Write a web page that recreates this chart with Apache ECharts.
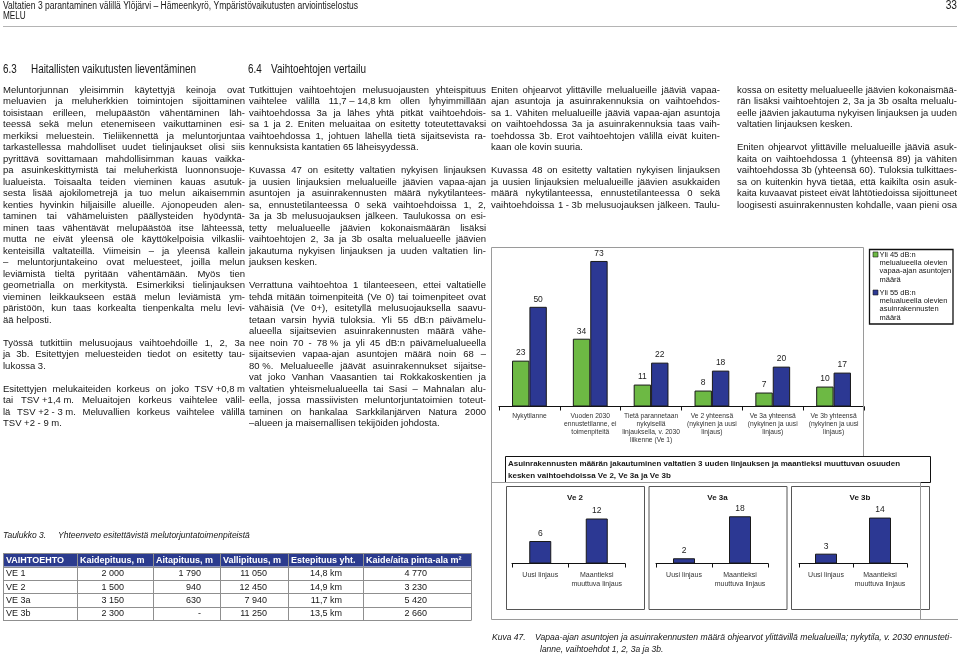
<!DOCTYPE html>
<html><head><meta charset="utf-8">
<script src="https://cdn.jsdelivr.net/npm/echarts@6/dist/echarts.min.js"></script>
<style>html,body{margin:0;padding:0;background:#fff}#c{width:960px;height:657px}</style>
</head><body><div id="c"></div>
<script>
// ---------------- DATA ----------------
const mainCategories = [
  'Nykytilanne',
  'Vuoden 2030\nennustetilanne, ei\ntoimenpiteitä',
  'Tietä parannetaan\nnykyisellä\nlinjauksella, v. 2030\nliikenne (Ve 1)',
  'Ve 2 yhteensä\n(nykyinen ja uusi\nlinjaus)',
  'Ve 3a yhteensä\n(nykyinen ja uusi\nlinjaus)',
  'Ve 3b yhteensä\n(nykyinen ja uusi\nlinjaus)'
];
const seriesNames = [
  'Yli 45 dB:n\nmelualueella olevien\nvapaa-ajan asuntojen\nmäärä',
  'Yli 55 dB:n\nmelualueella olevien\nasuinrakennusten\nmäärä'
];
const leisureHomes = [23, 34, 11, 8, 7, 10];
const residentialBuildings = [50, 73, 22, 18, 20, 17];

const splitTitleLines = [
  'Asuinrakennusten määrän jakautuminen valtatien 3 uuden linjauksen ja maantieksi muuttuvan osuuden',
  'kesken vaihtoehdoissa Ve 2, Ve 3a ja Ve 3b'
];
const splitPanelTitles = ['Ve 2', 'Ve 3a', 'Ve 3b'];
const splitCategories = ['Uusi linjaus', 'Maantieksi\nmuuttuva linjaus'];
const ve2Split = [6, 12];
const ve3aSplit = [2, 18];
const ve3bSplit = [3, 14];
const splitMax = [14, 20, 16];

const tableCaption = ['Taulukko 3.', 'Yhteenveto esitettävistä melutorjuntatoimenpiteistä'];
const tableHeader = ['VAIHTOEHTO', 'Kaidepituus, m', 'Aitapituus, m', 'Vallipituus, m', 'Estepituus yht.', 'Kaide/aita pinta-ala m²'];
const tableRowLabels = ['VE 1', 'VE 2', 'VE 3a', 'VE 3b'];
const kaidepituus = ['2 000', '1 500', '3 150', '2 300'];
const aitapituus = ['1 790', '940', '630', '-'];
const vallipituus = ['11 050', '12 450', '7 940', '11 250'];
const estepituus = ['14,8 km', '14,9 km', '11,7 km', '13,5 km'];
const pintaAla = ['4 770', '3 230', '5 420', '2 660'];

const headerTitle = 'Valtatien 3 parantaminen välillä Ylöjärvi – Hämeenkyrö, Ympäristövaikutusten arviointiselostus';
const headerSub = 'MELU';
const pageNumber = '33';
const heading63 = ['6.3', 'Haitallisten vaikutusten lieventäminen'];
const heading64 = ['6.4', 'Vaihtoehtojen vertailu'];
const figureCaption = ['Kuva 47.', 'Vapaa-ajan asuntojen ja asuinrakennusten määrä ohjearvot ylittävillä melualueilla; nykytila, v. 2030 ennusteti-', 'lanne, vaihtoehdot 1, 2, 3a ja 3b.'];

const colA = [
 ['Meluntorjunnan yleisimmin käytettyjä keinoja ovat',
  'meluavien ja meluherkkien toimintojen sijoittaminen',
  'toisistaan erilleen, melupäästön vähentäminen läh-',
  'teessä sekä melun etenemiseen vaikuttaminen esi-',
  'merkiksi meluestein. Tieliikennettä ja meluntorjuntaa',
  'tarkastellessa mahdolliset uudet tielinjaukset olisi siis',
  'pyrittävä sovittamaan mahdollisimman kauas vaikka-',
  'pa asuinkeskittymistä tai meluherkistä luonnonsuoje-',
  'lualueista. Toisaalta teiden vieminen kauas asutuk-',
  'sesta lisää ajokilometrejä ja tuo melun aikaisemmin',
  'kenties hyvinkin hiljaisille alueille. Ajonopeuden alen-',
  'taminen tai vähämeluisten päällysteiden hyödyntä-',
  'minen taas vähentävät melupäästöä itse lähteessä,',
  'mutta ne eivät yleensä ole käyttökelpoisia vilkaslii-',
  'kenteisillä valtateillä. Viimeisin – ja yleensä kallein',
  '– meluntorjuntakeino ovat meluesteet, joilla melun',
  'leviämistä tieltä pyritään vähentämään. Myös tien',
  'geometrialla on merkitystä. Esimerkiksi tielinjauksen',
  'vieminen leikkaukseen estää melun leviämistä ym-',
  'päristöön, kun taas korkealta tienpenkalta melu levi-',
  'ää helposti.'],
 ['Työssä tutkittiin melusuojaus vaihtoehdoille 1, 2, 3a',
  'ja 3b. Esitettyjen meluesteiden tiedot on esitetty tau-',
  'lukossa 3.'],
 ['Esitettyjen melukaiteiden korkeus on joko TSV\u00a0+0,8\u00a0m',
  'tai TSV\u00a0+1,4\u00a0m. Meluaitojen korkeus vaihtelee välil-',
  'lä TSV\u00a0+2\u00a0-\u00a03\u00a0m. Meluvallien korkeus vaihtelee välillä',
  'TSV\u00a0+2\u00a0-\u00a09\u00a0m.']
];
const colB = [
 ['Tutkittujen vaihtoehtojen melusuojausten yhteispituus',
  'vaihtelee välillä 11,7\u00a0–\u00a014,8\u00a0km ollen lyhyimmillään',
  'vaihtoehdossa 3a ja lähes yhtä pitkät vaihtoehdois-',
  'sa 1 ja 2. Eniten meluaitaa on esitetty toteutettavaksi',
  'vaihtoehdossa 1, johtuen lähellä tietä sijaitsevista ra-',
  'kennuksista kantatien 65 läheisyydessä.'],
 ['Kuvassa 47 on esitetty valtatien nykyisen linjauksen',
  'ja uusien linjauksien melualueille jäävien vapaa-ajan',
  'asuntojen ja asuinrakennusten määrä nykytilantees-',
  'sa, ennustetilanteessa 0 sekä vaihtoehdoissa 1, 2,',
  '3a ja 3b melusuojauksen jälkeen. Taulukossa on esi-',
  'tetty melualueelle jäävien kokonaismäärän lisäksi',
  'vaihtoehtojen 2, 3a ja 3b osalta melualueelle jäävien',
  'jakautuma nykyisen linjauksen ja uuden valtatien lin-',
  'jauksen kesken.'],
 ['Verrattuna vaihtoehtoa 1 tilanteeseen, ettei valtatielle',
  'tehdä mitään toimenpiteitä (Ve 0) tai toimenpiteet ovat',
  'vähäisiä (Ve 0+), esitetyllä melusuojauksella saavu-',
  'tetaan varsin hyviä tuloksia. Yli 55 dB:n päivämelu-',
  'alueella sijaitsevien asuinrakennusten määrä vähe-',
  'nee noin 70 - 78\u00a0% ja yli 45 dB:n päivämelualueella',
  'sijaitsevien vapaa-ajan asuntojen määrä noin 68 –',
  '80\u00a0%. Melualueelle jäävät asuinrakennukset sijaitse-',
  'vat joko Vanhan Vaasantien tai Rokkakoskentien ja',
  'valtatien yhteismelualueella tai Sasi – Mahnalan alu-',
  'eella, jossa massiivisten meluntorjuntatoimien toteut-',
  'taminen on hankalaa Sarkkilanjärven Natura 2000',
  '–alueen ja maisemallisen tekijöiden johdosta.']
];
const colC = [
 ['Eniten ohjearvot ylittäville melualueille jääviä vapaa-',
  'ajan asuntoja ja asuinrakennuksia on vaihtoehdos-',
  'sa 1. Vähiten melualueille jääviä vapaa-ajan asuntoja',
  'on vaihtoehdossa 3a ja asuinrakennuksia taas vaih-',
  'toehdossa 3b. Erot vaihtoehtojen välillä eivät kuiten-',
  'kaan ole kovin suuria.'],
 ['Kuvassa 48 on esitetty valtatien nykyisen linjauksen',
  'ja uusien linjauksien melualueille jäävien asukkaiden',
  'määrä nykytilanteessa, ennustetilanteessa 0 sekä',
  'vaihtoehdoissa 1\u00a0-\u00a03b melusuojauksen jälkeen. Taulu-']
];
const colD = [
 ['kossa on esitetty melualueelle jäävien kokonaismää-',
  'rän lisäksi vaihtoehtojen 2, 3a ja 3b osalta melualu-',
  'eelle jäävien jakautuma nykyisen linjauksen ja uuden',
  'valtatien linjauksen kesken.'],
 ['Eniten ohjearvot ylittäville melualueille jääviä asuk-',
  'kaita on vaihtoehdossa 1 (yhteensä 89) ja vähiten',
  'vaihtoehdossa 3b (yhteensä 60). Tuloksia tulkittaes-',
  'sa on kuitenkin hyvä tietää, että kaikilta osin asuk-',
  'kaita kuvaavat pisteet eivät lähtötiedoissa sijoittuneet',
  'loogisesti asuinrakennusten kohdalle, vaan pieni osa']
];

// ---------------- HELPERS ----------------
const FF = 'Liberation Sans';
const GREEN = '#6DB944', NAVY = '#2C3893', EDGE = '#1a1a1a', TXT = '#161616';
const mctx = document.createElement('canvas').getContext('2d');
function measure(t, size, weight, style) {
  mctx.font = (style || 'normal') + ' ' + (weight || 'normal') + ' ' + size + 'px "' + FF + '"';
  return mctx.measureText(t).width;
}
const G = [];
function T(x, y, text, o) {
  o = o || {};
  const size = o.size || 9.5;
  const al = o.align || 'left';
  const el = {type: 'text', x: x, y: y, silent: true, z: 10,
    style: {text: text, fontSize: size, fontFamily: FF, fontWeight: o.weight || 'normal',
      fontStyle: o.style || 'normal', fill: o.fill || TXT,
      textAlign: al, align: al, textVerticalAlign: 'middle', verticalAlign: 'middle'}};
  let sx = o.scaleX;
  if (o.fit) sx = o.fit / measure(text, size, o.weight, o.style);
  if (sx) el.scaleX = sx;
  G.push(el);
}
function L(x1, y1, x2, y2, stroke, w) {
  G.push({type: 'line', silent: true, z: 5, shape: {x1: x1, y1: y1, x2: x2, y2: y2}, style: {stroke: stroke, lineWidth: w || 1}});
}
function R(x, y, w, h, fill, stroke, lw) {
  G.push({type: 'rect', silent: true, z: 4, shape: {x: x, y: y, width: w, height: h},
    style: {fill: fill || 'none', stroke: stroke || 'none', lineWidth: lw || 1}});
}
function jline(line, x, y, w, o, justify) {
  const size = o.size || 9.5;
  const nat = measure(line, size, o.weight, o.style);
  if (nat > w) { T(x, y, line, Object.assign({}, o, {scaleX: w / nat})); return; }
  if (!justify) { T(x, y, line, o); return; }
  const words = line.split(' ');
  if (words.length < 2) { T(x, y, line, o); return; }
  const ws = words.map(function (wd) { return measure(wd, size, o.weight, o.style); });
  const sum = ws.reduce(function (a, b) { return a + b; }, 0);
  const gap = (w - sum) / (words.length - 1);
  let cx = x;
  words.forEach(function (wd, i) { T(cx, y, wd, o); cx += ws[i] + gap; });
}
function block(paras, x, y0, w, lh, o, openEnd) {
  let y = y0;
  paras.forEach(function (p, pi) {
    p.forEach(function (line, li) {
      const last = li === p.length - 1;
      jline(line, x, y, w, o, !last || (openEnd && pi === paras.length - 1));
      y += lh;
    });
    y += lh;
  });
}

// ---------------- PAGE TEXT ----------------
T(3, 6, headerTitle, {size: 10, fit: 355});
T(3, 16.5, headerSub, {size: 10, scaleX: 0.82});
T(957, 6, pageNumber, {size: 12, align: 'right', scaleX: 0.85});
L(3, 26.5, 957, 26.5, '#b4b4b4', 1);

T(3, 70, heading63[0], {size: 12, scaleX: 0.82});
T(31, 70, heading63[1], {size: 12, fit: 165});
T(248, 70, heading64[0], {size: 12, scaleX: 0.82});
T(271, 70, heading64[1], {size: 12, fit: 95});

const BODY = {size: 9.5};
block(colA, 3, 90, 242, 11.5, BODY, false);
block(colB, 249, 90, 237, 11.5, BODY, false);
block(colC, 491, 90, 229, 11.5, BODY, true);
block(colD, 737, 90, 220, 11.5, BODY, true);

// ---------------- TABLE ----------------
T(3, 536, tableCaption[0], {size: 8.5, style: 'italic'});
T(58, 536, tableCaption[1], {size: 8.5, style: 'italic'});
const colEdges = [3, 77, 153, 220, 288, 363, 471];
const tTop = 553, hdrH = 13.5, rowH = 13.4;
R(colEdges[0], tTop, colEdges[6] - colEdges[0], hdrH, '#2B3B8E');
tableHeader.forEach(function (h, i) { T(colEdges[i] + 3, tTop + hdrH / 2 + 0.5, h, {size: 9, weight: 'bold', fill: '#ffffff'}); });
const tableCols = [kaidepituus, aitapituus, vallipituus, estepituus, pintaAla];
const rightAnchors = [124, 201, 267, 342, 427];
tableRowLabels.forEach(function (lab, r) {
  const yc = tTop + hdrH + r * rowH + rowH / 2 + 0.5;
  T(6, yc, lab, {size: 9});
  tableCols.forEach(function (col, c) { T(rightAnchors[c], yc, col[r], {size: 9, align: 'right'}); });
});
for (let r = 0; r <= 4; r++) {
  const yy = Math.round(tTop + hdrH + r * rowH) + 0.5;
  L(colEdges[0], yy, colEdges[6], yy, '#8f8f8f', 1);
}
L(colEdges[0], tTop + 0.5, colEdges[6], tTop + 0.5, '#8f8f8f', 1);
colEdges.forEach(function (xe) { L(xe + 0.5, tTop, xe + 0.5, tTop + hdrH + 4 * rowH + 0.5, '#8f8f8f', 1); });

// ---------------- FIGURE FRAMES ----------------
const FR = '#9a9a9a';
L(491.5, 247.5, 863.5, 247.5, FR, 1);
L(863.5, 247.5, 863.5, 456, FR, 1);
L(491.5, 247.5, 491.5, 619.5, FR, 1);
L(491.5, 619.5, 958, 619.5, FR, 1);
L(491.5, 482.5, 920.5, 482.5, FR, 1);
L(920.5, 482.5, 920.5, 619.5, FR, 1);
// legend box
R(869.5, 249.5, 83.5, 74.5, 'none', '#111', 1.3);
const legendColors = [GREEN, NAVY];
const legendTops = [254.5, 292.5];
seriesNames.forEach(function (nm, i) {
  R(873, legendTops[i] - 2.5, 5, 5, legendColors[i], EDGE, 0.6);
  nm.split('\n').forEach(function (ln, k) { T(879.5, legendTops[i] + k * 8.4, ln, {size: 7.5}); });
});
// title box of the split charts
R(505.5, 456.5, 425, 26, 'none', '#111', 1);
jline(splitTitleLines[0], 508, 464, 392, {size: 8, weight: 'bold'}, true);
T(508, 475.5, splitTitleLines[1], {size: 8, weight: 'bold'});
// small panels
const panelX = [506, 648.5, 791];
panelX.forEach(function (px, i) {
  R(px + 0.5, 486.5, 138, 123, 'none', '#555', 1);
  T(px + 69, 498, splitPanelTitles[i], {size: 8, weight: 'bold', align: 'center'});
});
// caption
T(492, 638, figureCaption[0], {size: 8.5, style: 'italic'});
T(535, 638, figureCaption[1], {size: 8.5, style: 'italic', fit: 417});
T(540, 650, figureCaption[2], {size: 8.5, style: 'italic'});

// ---------------- CHART ----------------
const chart = echarts.init(document.getElementById('c'), null, {renderer: 'canvas'});
const splitData = [ve2Split, ve3aSplit, ve3bSplit];
const splitGrids = [
  {left: 512, top: 511, width: 113, height: 52.5},
  {left: 656, top: 511, width: 112, height: 52.5},
  {left: 799, top: 511, width: 108, height: 52.5}
];
const axisCommon = {
  type: 'category',
  axisLine: {lineStyle: {color: '#111', width: 1}},
  axisTick: {show: true, length: 4, lineStyle: {color: '#111'}},
  splitLine: {show: false}
};
const option = {
  animation: false,
  backgroundColor: '#ffffff',
  textStyle: {fontFamily: FF},
  grid: [{left: 499, top: 247, width: 365, height: 159.5, outerBoundsMode: 'none'}]
    .concat(splitGrids.map(function (g) { return Object.assign({outerBoundsMode: 'none'}, g); })),
  xAxis: [Object.assign({}, axisCommon, {gridIndex: 0, data: mainCategories,
      axisLabel: {interval: 0, hideOverlap: false, fontSize: 6.7, lineHeight: 7.8, color: '#333', margin: 6}})]
    .concat(splitData.map(function (d, i) {
      return Object.assign({}, axisCommon, {gridIndex: i + 1, data: splitCategories,
        axisLabel: {interval: 0, hideOverlap: false, fontSize: 7, lineHeight: 9, color: '#333', margin: 7}});
    })),
  yAxis: [{gridIndex: 0, type: 'value', min: 0, max: 80, show: false}]
    .concat(splitMax.map(function (m, i) { return {gridIndex: i + 1, type: 'value', min: 0, max: m, show: false}; })),
  series: [
    {type: 'bar', name: seriesNames[0], xAxisIndex: 0, yAxisIndex: 0, data: leisureHomes,
      barWidth: 17.4, barGap: '0%',
      itemStyle: {color: GREEN, borderColor: EDGE, borderWidth: 1},
      label: {show: true, position: 'top', distance: 3, fontSize: 8.5, color: '#222'}},
    {type: 'bar', name: seriesNames[1], xAxisIndex: 0, yAxisIndex: 0, data: residentialBuildings,
      barWidth: 17.4, barGap: '0%',
      itemStyle: {color: NAVY, borderColor: EDGE, borderWidth: 1},
      label: {show: true, position: 'top', distance: 3, fontSize: 8.5, color: '#222'}}
  ].concat(splitData.map(function (d, i) {
    return {type: 'bar', name: splitPanelTitles[i], xAxisIndex: i + 1, yAxisIndex: i + 1, data: d,
      barWidth: 22,
      itemStyle: {color: NAVY, borderColor: EDGE, borderWidth: 1},
      label: {show: true, position: 'top', distance: 3, fontSize: 8.5, color: '#222'}};
  })),
  graphic: {elements: G}
};
chart.setOption(option);
</script>
</body></html>
